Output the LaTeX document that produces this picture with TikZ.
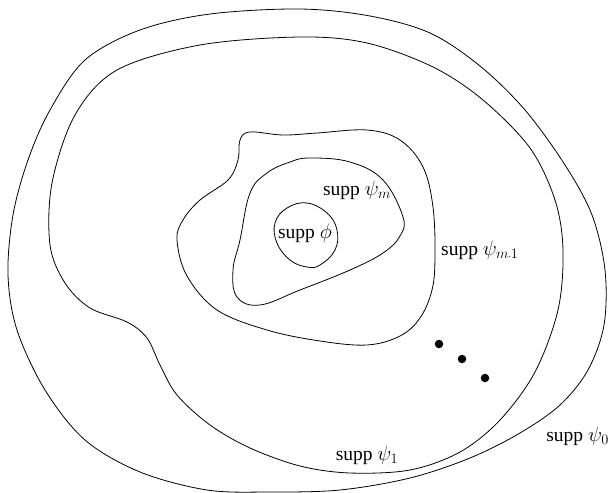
\documentclass[tikz,border=0pt]{standalone}
\usepackage{fontspec}
\setmainfont{Liberation Serif}
\begin{document}
\begin{tikzpicture}[x=1pt,y=-1pt,
  contour/.style={draw=black,line width=0.8pt},
  lbl/.style={font=\fontsize{19.5}{22}\selectfont,inner sep=0pt},
  dotmark/.style={circle,fill=black,inner sep=0pt,minimum size=8.5pt}]
\useasboundingbox (0,0) rectangle (611,493);
% psi_0
\draw[contour] plot[smooth cycle,tension=0.55] coordinates {
 (300,9) (370,16) (430,33) (480,66) (525,110) (565,165) (592,215) (605,270)
 (604,325) (588,370) (560,405) (520,433) (470,458) (410,478) (340,490) (270,492) (207,490)
 (140,472) (85,440) (45,390) (17,330) (8,275) (13,215) (28,160) (50,110) (85,60) (140,30) (210,14)};
% psi_1
\draw[contour] plot[smooth cycle,tension=0.55] coordinates {
 (300,37) (367,43) (433,67) (483,100) (530,148) (555,200) (563,250) (558,310)
 (535,372) (500,420) (460,452) (410,470) (350,473) (300,466) (250,448) (210,425) (177,395)
 (160,365) (147,338) (127,322) (90,308) (65,283) (50,245) (52,183) (75,115) (117,70) (200,45)};
% psi_{m-1}
\draw[contour] plot[smooth cycle,tension=0.6] coordinates {
 (250,132) (283,135) (317,133) (367,130) (400,140) (423,167) (433,207) (435,257)
 (432,290) (420,318) (400,336) (367,345) (320,341) (267,330) (217,310) (187,276)
 (177,240) (183,220) (200,200) (228,180) (238,160) (240,140)};
% psi_m
\draw[contour] plot[smooth cycle,tension=0.65] coordinates {
 (310,158) (350,162) (383,180) (403,217) (400,236) (383,253) (350,270) (300,290)
 (260,305) (237,297) (233,270) (240,240) (250,193) (267,173) (290,162)};
% phi
\draw[contour] plot[smooth cycle,tension=0.7] coordinates {
 (307,203) (327,213) (337,230) (335,250) (320,265) (307,267) (290,260) (277,243)
 (275,223) (287,208)};
\node[lbl] (lm) at (357,190) {supp $\psi_m$};
\node[lbl] (lphi) at (305,233) {supp $\phi$};
\node[lbl,anchor=west] (lm1) at (441,250) {supp $\psi_{m\mbox{\scriptsize -}1}$};
\node[lbl] (l1) at (367,455) {supp $\psi_1$};
\node[lbl,anchor=east] (l0) at (609,436) {supp $\psi_0$};
\node[dotmark] (d1) at (439,344) {};
\node[dotmark] (d2) at (462,359) {};
\node[dotmark] (d3) at (485,378) {};
\end{tikzpicture}
\end{document}
